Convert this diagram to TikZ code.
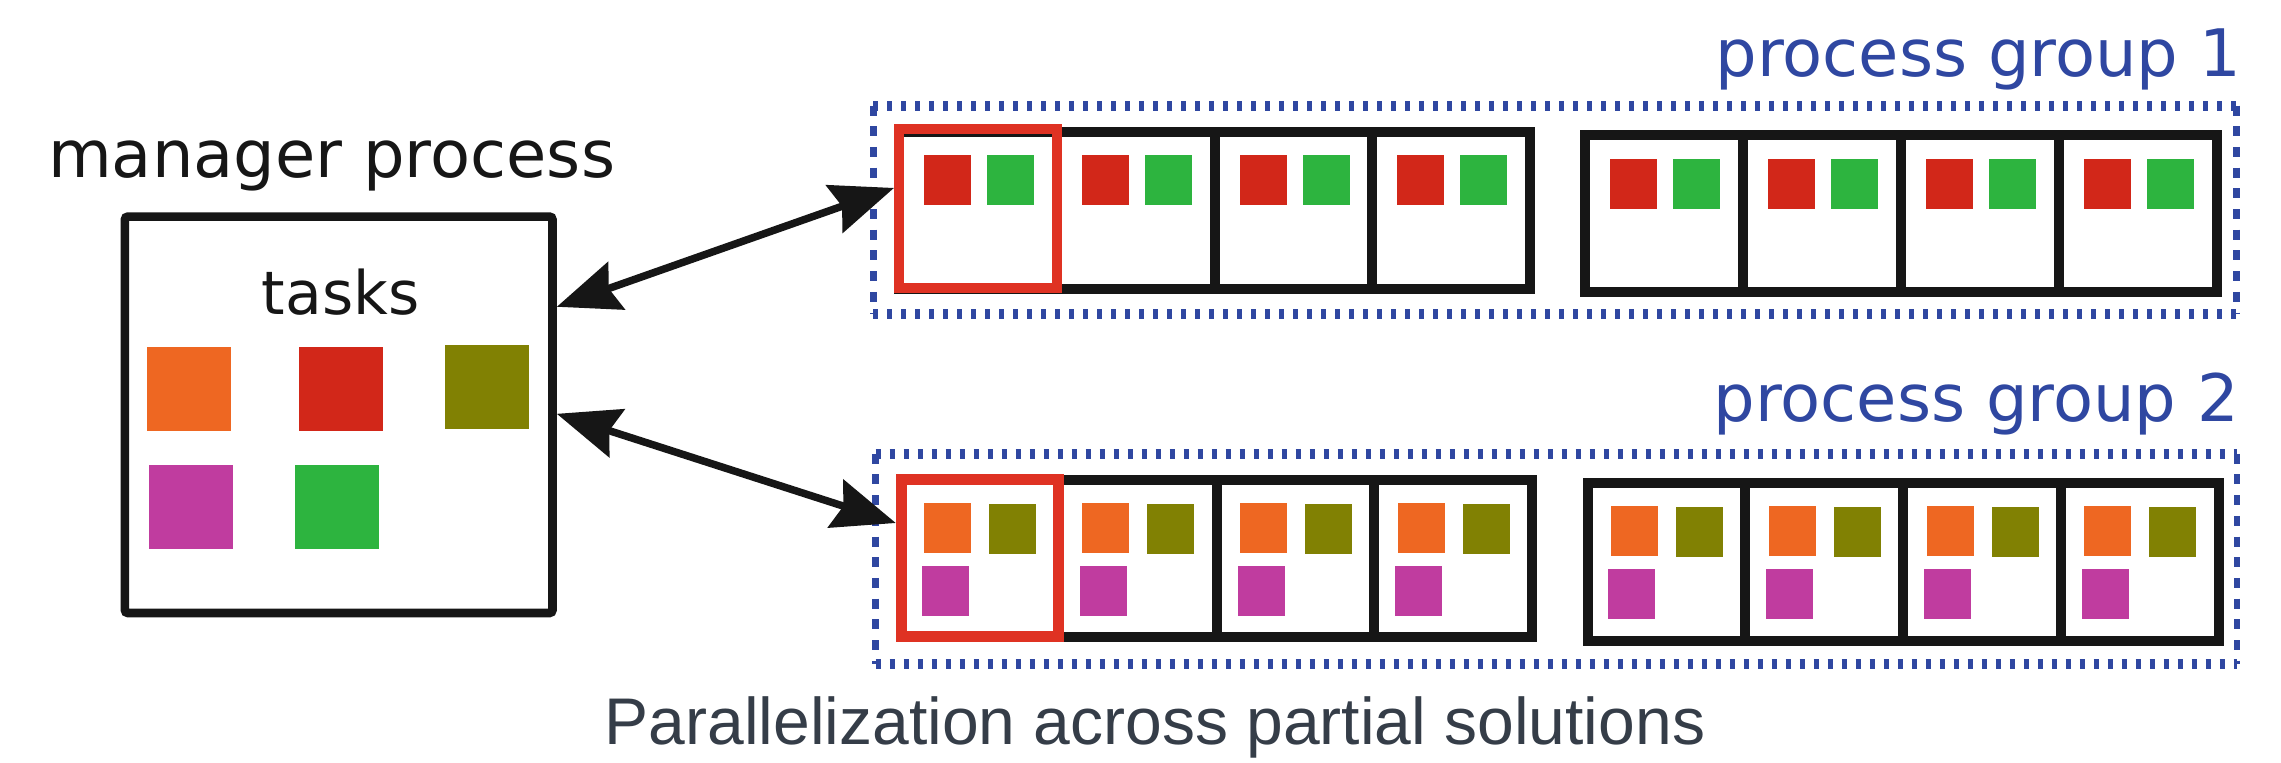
\documentclass[tikz,border=0pt]{standalone}
\usepackage{fontspec}
\setmainfont{DejaVu Sans}
\newfontfamily\capfont{Liberation Sans}
\usetikzlibrary{arrows.meta,calc}
\definecolor{ink}{HTML}{161616}
\definecolor{grpblue}{HTML}{2F47A1}
\definecolor{frame}{HTML}{DF3223}
\definecolor{sqred}{HTML}{D22719}
\definecolor{sqgreen}{HTML}{2DB43F}
\definecolor{sqorange}{HTML}{EE6722}
\definecolor{sqolive}{HTML}{818103}
\definecolor{sqmag}{HTML}{C03C9F}
\definecolor{captext}{HTML}{353D48}
\begin{document}
\begin{tikzpicture}[x=1pt,y=-1pt,
  cellbox/.style={draw=ink, line width=10pt, minimum width=157.8pt, minimum height=157.5pt, inner sep=0pt},
  sq/.style={inner sep=0pt, outer sep=0pt, minimum width=47pt, minimum height=50pt},
  bigsq/.style={inner sep=0pt, outer sep=0pt, minimum width=84pt, minimum height=84pt},
  grp/.style={inner sep=0pt, outer sep=0pt},
  hdots/.style={draw=grpblue, line width=10pt, dash pattern=on 5pt off 9pt},
  vdots/.style={draw=grpblue, line width=6.7pt, dash pattern=on 10pt off 10.7pt},
  redframe/.style={draw=frame, inner sep=0pt},
  mgrbox/.style={draw=ink, line width=8.6pt, rounded corners=3pt, inner sep=0pt},
  arr/.style={draw=ink, line width=7.5pt,
    {Stealth[length=63pt,width=50pt,inset=8pt]}-{Stealth[length=63pt,width=50pt,inset=8pt]}},
  lbl/.style={inner sep=0pt, font=\fontsize{65.5}{70}\selectfont},
  grplbl/.style={lbl, text=grpblue, anchor=base east},
]
\useasboundingbox (0,0) rectangle (2281,763);

% process group dotted frames
\node[grp, minimum width=1363.3pt, minimum height=208.2pt] (g1) at (1554.95,209.6) {};
\node[grp, minimum width=1361.5pt, minimum height=210.6pt] (g2) at (1556.25,559) {};
\foreach \gn in {g1,g2}{
  \draw[hdots] (\gn.north west) -- (\gn.north east);
  \draw[hdots] (\gn.south west) -- (\gn.south east);
  \draw[vdots] (\gn.north west) -- (\gn.south west);
  \draw[vdots] (\gn.north east) -- (\gn.south east);
}

% group 1 cells (red + green)
\foreach \sn/\lx/\cy in {a/899/210.35, b/1585.3/213.6}{
  \foreach \i in {1,...,4}{
    \node[cellbox] (\sn\i) at ({\lx+157.8*(\i-0.5)}, \cy) {};
    \node[sq, fill=sqred] (\sn\i-r) at ([shift={(-30.5,-30)}]\sn\i.center) {};
    \node[sq, fill=sqgreen] (\sn\i-g) at ([shift={(32.5,-30)}]\sn\i.center) {};
  }
}
% group 2 cells (orange + olive + magenta)
\foreach \sn/\lx/\cy in {c/901/558.5, d/1587.5/562.05}{
  \foreach \i in {1,...,4}{
    \node[cellbox] (\sn\i) at ({\lx+157.8*(\i-0.5)}, \cy) {};
    \node[sq, fill=sqorange] (\sn\i-o) at ([shift={(-32,-31)}]\sn\i.center) {};
    \node[sq, fill=sqolive] (\sn\i-v) at ([shift={(33,-30)}]\sn\i.center) {};
    \node[sq, fill=sqmag] (\sn\i-m) at ([shift={(-34.5,32)}]\sn\i.center) {};
  }
}

% red highlight frames
\node[redframe, line width=10pt, minimum width=158pt, minimum height=158.7pt] (r1) at (978,208.35) {};
\node[redframe, line width=11pt, minimum width=157.4pt, minimum height=156.8pt] (r2) at (980,557.9) {};

% manager process
\node[mgrbox, minimum width=427.6pt, minimum height=396.4pt] (mgr) at (338.7,414.8) {};
\node[bigsq, fill=sqorange] (t1) at (188.6,388.9) {};
\node[bigsq, fill=sqred] (t2) at (340.7,388.9) {};
\node[bigsq, fill=sqolive] (t3) at (486.8,386.9) {};
\node[bigsq, fill=sqmag] (t4) at (190.6,506.9) {};
\node[bigsq, fill=sqgreen] (t5) at (336.7,506.9) {};

% arrows
\draw[arr] ([yshift=108pt]mgr.east) -- ([yshift=20.4pt]r1.west);
\draw[arr] ([yshift=1pt]mgr.east) -- ([yshift=34.9pt]r2.west);

% labels
\node[lbl, text=ink, anchor=base west] (mgrlbl) at (48,177.7) {manager process};
\node[inner sep=0pt, text=ink, anchor=base, font=\fontsize{60}{64}\selectfont] (tasks) at (340.5,314) {tasks};
\node[grplbl] (lbl1) at (2241,76.7) {process group 1};
\node[grplbl] (lbl2) at (2239,421.7) {process group 2};
\node[inner sep=0pt, anchor=base, text=captext, font=\capfont\fontsize{66}{70}\selectfont] (cap) at (1155,744) {Parallelization across partial solutions};
\end{tikzpicture}
\end{document}
